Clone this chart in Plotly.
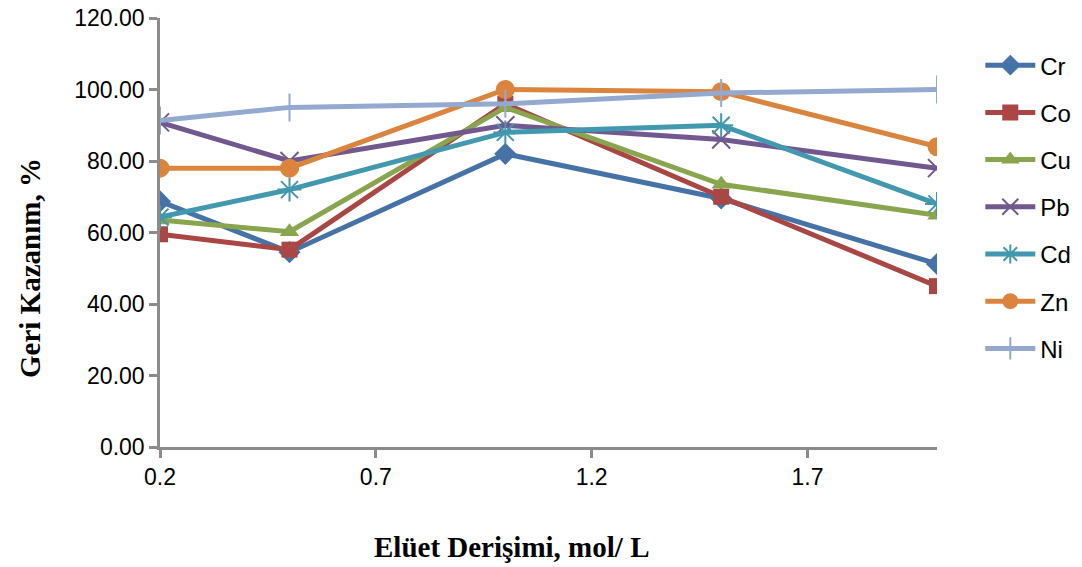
import plotly.graph_objects as go

# Eluent concentration (mol/L) and recovery (%) for each metal
concentration = [0.2, 0.5, 1.0, 1.5, 2.0]
metals = ["Cr", "Co", "Cu", "Pb", "Cd", "Zn", "Ni"]
recovery_cr = [68.7, 54.5, 82.0, 69.5, 51.2]
recovery_co = [59.5, 55.2, 96.0, 70.0, 45.0]
recovery_cu = [63.5, 60.2, 95.0, 73.5, 64.8]
recovery_pb = [90.8, 80.0, 90.0, 86.0, 78.0]
recovery_cd = [64.3, 72.0, 88.0, 90.0, 68.0]
recovery_zn = [78.0, 78.0, 100.0, 99.4, 84.0]
recovery_ni = [91.3, 95.0, 96.0, 99.0, 100.0]
x_tick_vals = [0.2, 0.7, 1.2, 1.7]
y_tick_vals = [0, 20, 40, 60, 80, 100, 120]

series = [recovery_cr, recovery_co, recovery_cu, recovery_pb,
          recovery_cd, recovery_zn, recovery_ni]
colors = ["#4572A7", "#AA4643", "#89A54E", "#71588F",
          "#4198AF", "#DB843D", "#93A9CF"]
symbols = ["diamond", "square", "triangle-up", "x-thin",
           "asterisk", "circle", "cross-thin"]
sizes = [17, 16, 17, 18, 20, 19, 20]

fig = go.Figure()
for i, (name, vals) in enumerate(zip(metals, series)):
    sym = symbols[i]
    line_only = sym in ("x-thin", "asterisk", "cross-thin")
    marker = dict(symbol=sym, size=sizes[i], color=colors[i])
    if line_only:
        marker["line"] = dict(color=colors[i], width=2)
    else:
        marker["line"] = dict(width=0)
    fig.add_trace(go.Scatter(
        x=concentration, y=vals, name=name, mode="lines+markers",
        line=dict(color=colors[i], width=5),
        marker=marker, legendgroup=name,
    ))

axis_common = dict(
    showgrid=False, zeroline=False, showline=True, automargin=False,
    linecolor="#8c8c8c", linewidth=2.5,
    ticks="outside", ticklen=8, tickwidth=2.5, tickcolor="#8c8c8c",
    tickfont=dict(family="Liberation Sans", size=23, color="black"),
)

title_font = dict(family="Liberation Serif", size=29, color="black")

fig.update_layout(
    width=1082, height=567,
    margin=dict(l=160, r=145, t=18, b=120),
    paper_bgcolor="white", plot_bgcolor="white",
    font=dict(family="Liberation Sans", size=23, color="black"),
    showlegend=True,
    legend=dict(xref="container", yref="container",
                x=0.906, xanchor="left", y=0.924, yanchor="top",
                font=dict(size=24), tracegroupgap=13, maxheight=480,
                itemwidth=50, bgcolor="rgba(0,0,0,0)"),
    xaxis=dict(
        range=[0.2, 2.0], tickvals=x_tick_vals,
        ticktext=[f"{v:.1f}" for v in x_tick_vals],
        **axis_common,
    ),
    yaxis=dict(
        range=[0, 120], tickvals=y_tick_vals, tickformat=".2f",
        **axis_common,
    ),
    annotations=[
        dict(text="<b>Elüet Derişimi, mol/ L</b>", xref="paper", yref="paper",
             x=(511 - 160) / 777, y=-(547 - 447) / 429,
             xanchor="center", yanchor="middle", showarrow=False,
             font=title_font),
        dict(text="<b>Geri Kazanım, %</b>", xref="paper", yref="paper",
             x=-(160 - 30) / 777, y=(447 - 268) / 429, textangle=-90,
             xanchor="center", yanchor="middle", showarrow=False,
             font=title_font),
    ],
)

fig.write_html("out.html")
